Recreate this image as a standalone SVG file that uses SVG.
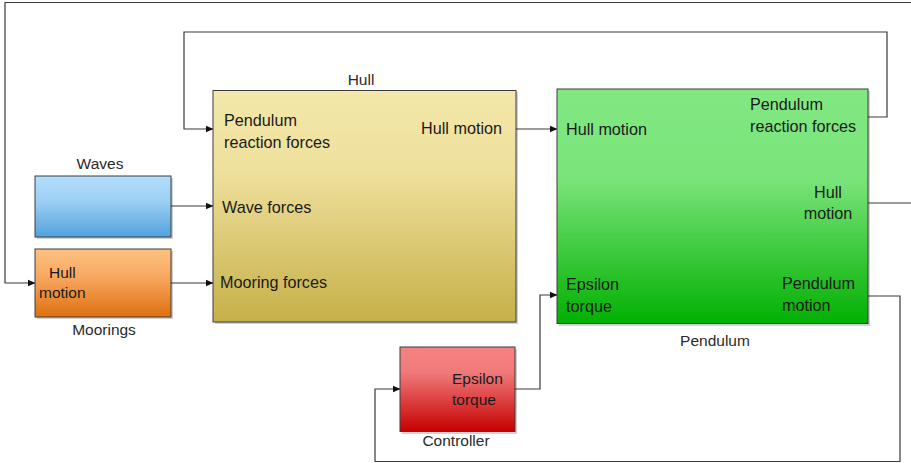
<svg xmlns="http://www.w3.org/2000/svg" width="911" height="463" viewBox="0 0 911 463">
<style>
text{font-family:"Liberation Sans",Arial,sans-serif;font-size:16.2px;fill:#1a1a1a}
.sm{font-size:15.5px}
.lbl{fill:#2a2a2a;font-size:15.5px}
.box{stroke:#3c3c3c;stroke-width:1}
.sh{fill:#000;opacity:0.18}
.wire{fill:none;stroke:#3a3a3a;stroke-width:1.2}
</style>
<defs>
<marker id="ah" viewBox="0 0 8 8" refX="7.5" refY="4" markerWidth="8" markerHeight="8" markerUnits="userSpaceOnUse" orient="auto">
<path d="M0,0.5 L8,4 L0,7.5 Z" fill="#111"/>
</marker>
<linearGradient id="gHull" x1="0" y1="0" x2="0" y2="1">
<stop offset="0" stop-color="#f3e7aa"/><stop offset="0.35" stop-color="#eee09c"/><stop offset="1" stop-color="#c6b048"/>
</linearGradient>
<linearGradient id="gWave" x1="0" y1="0" x2="0" y2="1">
<stop offset="0" stop-color="#b3defc"/><stop offset="0.4" stop-color="#9dd0f4"/><stop offset="1" stop-color="#52a2dc"/>
</linearGradient>
<linearGradient id="gMoor" x1="0" y1="0" x2="0" y2="1">
<stop offset="0" stop-color="#fdc282"/><stop offset="0.4" stop-color="#f8a860"/><stop offset="1" stop-color="#de7010"/>
</linearGradient>
<linearGradient id="gPend" x1="0" y1="0" x2="0" y2="1">
<stop offset="0" stop-color="#82e882"/><stop offset="0.38" stop-color="#7ae47a"/><stop offset="1" stop-color="#02b002"/>
</linearGradient>
<linearGradient id="gCtrl" x1="0" y1="0" x2="0" y2="1">
<stop offset="0" stop-color="#f58282"/><stop offset="0.3" stop-color="#f07a7a"/><stop offset="1" stop-color="#c60000"/>
</linearGradient>
</defs>

<g id="connectors">
<path class="wire" d="M911,2.5 H5 V283 H35" marker-end="url(#ah)"/>
<path class="wire" d="M868,117 H887 V32 H184 V129 H213" marker-end="url(#ah)"/>
<path class="wire" d="M171,206 H213" marker-end="url(#ah)"/>
<path class="wire" d="M171,283 H213" marker-end="url(#ah)"/>
<path class="wire" d="M516,129 H557" marker-end="url(#ah)"/>
<path class="wire" d="M868,203 H911"/>
<path class="wire" d="M515,389 H540 V295 H557" marker-end="url(#ah)"/>
<path class="wire" d="M868,296 H900 V461.5 H375 V389 H400" marker-end="url(#ah)"/>
</g>

<g id="hull">
<rect class="sh" x="215" y="92" width="303" height="232"/>
<rect class="box" x="213" y="90.5" width="303" height="231.5" fill="url(#gHull)"/>
<text class="lbl" x="361" y="85" text-anchor="middle">Hull</text>
<text x="224" y="126">Pendulum</text>
<text x="224" y="148">reaction forces</text>
<text x="502" y="134" text-anchor="end">Hull motion</text>
<text x="222" y="213">Wave forces</text>
<text x="220" y="288">Mooring forces</text>
</g>

<g id="waves">
<rect class="sh" x="37" y="178" width="136" height="61"/>
<rect class="box" x="35" y="176" width="136" height="61" fill="url(#gWave)"/>
<text class="lbl" x="100" y="169" text-anchor="middle">Waves</text>
</g>

<g id="moorings">
<rect class="sh" x="37" y="251" width="136" height="68"/>
<rect class="box" x="35" y="249" width="136" height="68" fill="url(#gMoor)"/>
<text class="sm" x="49" y="278">Hull</text>
<text class="sm" x="39" y="298">motion</text>
<text class="lbl" x="104" y="335" text-anchor="middle">Moorings</text>
</g>

<g id="pendulum">
<rect class="sh" x="559" y="91" width="311" height="235"/>
<rect class="box" x="557" y="89" width="311" height="234.5" fill="url(#gPend)"/>
<text x="566" y="135">Hull motion</text>
<text x="750" y="110">Pendulum</text>
<text x="750" y="132">reaction forces</text>
<text x="828" y="198" text-anchor="middle">Hull</text>
<text x="828" y="219" text-anchor="middle">motion</text>
<text x="566" y="290">Epsilon</text>
<text x="566" y="312">torque</text>
<text x="782" y="289">Pendulum</text>
<text x="782" y="311">motion</text>
<text class="lbl" x="715" y="346" text-anchor="middle">Pendulum</text>
</g>

<g id="controller">
<rect class="sh" x="402" y="349" width="115" height="85"/>
<rect class="box" x="400" y="347" width="115" height="84.5" fill="url(#gCtrl)"/>
<text class="sm" x="452" y="384">Epsilon</text>
<text class="sm" x="452" y="405">torque</text>
<text class="lbl" x="456" y="446" text-anchor="middle">Controller</text>
</g>
</svg>
